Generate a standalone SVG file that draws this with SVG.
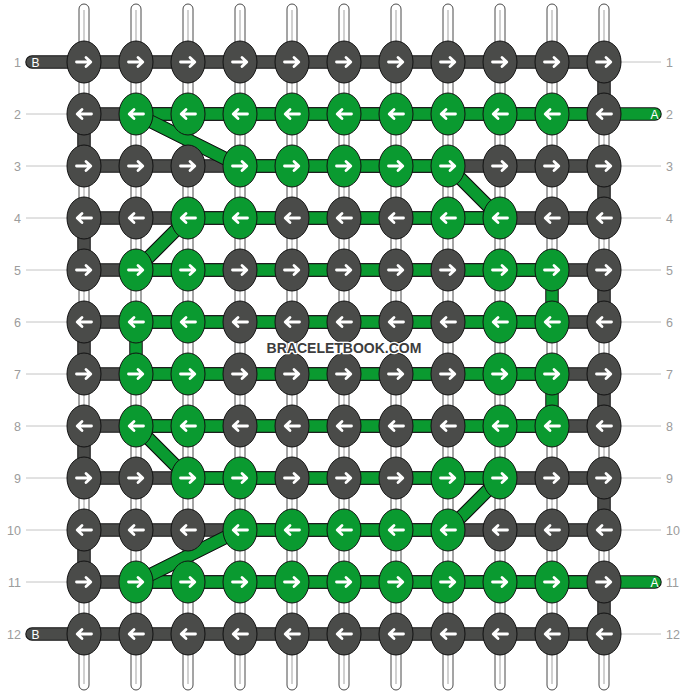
<svg xmlns="http://www.w3.org/2000/svg" xmlns:xlink="http://www.w3.org/1999/xlink" width="688" height="696" viewBox="0 0 688 696">
<style>
.d{fill:#4a4b49}
.g{fill:#0a9a30}
.st rect{fill:#fff;stroke:#4a4a4a;stroke-width:1}
.st line{stroke:#c6c6c6;stroke-width:1.6}
.ol{fill:none;stroke:#111;stroke-width:13.5;stroke-linejoin:round;stroke-linecap:round}
.fd{fill:none;stroke:#4a4b49;stroke-width:11.5;stroke-linejoin:round;stroke-linecap:round}
.fg{fill:none;stroke:#0a9a30;stroke-width:11.5;stroke-linejoin:round;stroke-linecap:round}
.olb{stroke:#111;stroke-width:13.5}
.fgb{stroke:#0a9a30;stroke-width:11.5}
.lab{font-family:"Liberation Sans",Arial,sans-serif;font-size:12.5px;fill:#9c9c9c}
.ll{stroke:#c4c4c4;stroke-width:1}
.tag{font-family:"Liberation Sans",Arial,sans-serif;font-size:12px;fill:#fff}
.wm{font-family:"Liberation Sans",Arial,sans-serif;font-size:14px;font-weight:bold;fill:#3d3d3d;stroke:#fff;stroke-width:2.5;paint-order:stroke;stroke-linejoin:round}
</style>
<defs>
<g id="kr"><ellipse rx="17" ry="21" stroke="#111" stroke-width="1"/><path d="M-7.5 0H6.5M2 -4.5L6.8 0L2 4.5" fill="none" stroke="#fff" stroke-width="2.8" stroke-linecap="round" stroke-linejoin="round"/></g>
<g id="kl"><ellipse rx="17" ry="21" stroke="#111" stroke-width="1"/><path d="M7.5 0H-6.5M-2 -4.5L-6.8 0L-2 4.5" fill="none" stroke="#fff" stroke-width="2.8" stroke-linecap="round" stroke-linejoin="round"/></g>
</defs>
<rect width="688" height="696" fill="#fff"/>
<g id="strands" class="st">
<g id="s1"><rect x="79" y="4" width="10" height="686" rx="5"/><line x1="84" y1="10" x2="84" y2="684"/></g>
<g id="s2"><rect x="131" y="4" width="10" height="686" rx="5"/><line x1="136" y1="10" x2="136" y2="684"/></g>
<g id="s3"><rect x="183" y="4" width="10" height="686" rx="5"/><line x1="188" y1="10" x2="188" y2="684"/></g>
<g id="s4"><rect x="235" y="4" width="10" height="686" rx="5"/><line x1="240" y1="10" x2="240" y2="684"/></g>
<g id="s5"><rect x="287" y="4" width="10" height="686" rx="5"/><line x1="292" y1="10" x2="292" y2="684"/></g>
<g id="s6"><rect x="339" y="4" width="10" height="686" rx="5"/><line x1="344" y1="10" x2="344" y2="684"/></g>
<g id="s7"><rect x="391" y="4" width="10" height="686" rx="5"/><line x1="396" y1="10" x2="396" y2="684"/></g>
<g id="s8"><rect x="443" y="4" width="10" height="686" rx="5"/><line x1="448" y1="10" x2="448" y2="684"/></g>
<g id="s9"><rect x="495" y="4" width="10" height="686" rx="5"/><line x1="500" y1="10" x2="500" y2="684"/></g>
<g id="s10"><rect x="547" y="4" width="10" height="686" rx="5"/><line x1="552" y1="10" x2="552" y2="684"/></g>
<g id="s11"><rect x="599" y="4" width="10" height="686" rx="5"/><line x1="604" y1="10" x2="604" y2="684"/></g>
</g>
<g id="labels">
<g class="ll">
<line x1="26" y1="114" x2="67" y2="114"/><line x1="26" y1="166" x2="67" y2="166"/><line x1="26" y1="218" x2="67" y2="218"/><line x1="26" y1="270" x2="67" y2="270"/><line x1="26" y1="322" x2="67" y2="322"/><line x1="26" y1="374" x2="67" y2="374"/><line x1="26" y1="426" x2="67" y2="426"/><line x1="26" y1="478" x2="67" y2="478"/><line x1="26" y1="530" x2="67" y2="530"/><line x1="26" y1="582" x2="67" y2="582"/>
<line x1="621" y1="62" x2="661" y2="62"/><line x1="621" y1="166" x2="661" y2="166"/><line x1="621" y1="218" x2="661" y2="218"/><line x1="621" y1="270" x2="661" y2="270"/><line x1="621" y1="322" x2="661" y2="322"/><line x1="621" y1="374" x2="661" y2="374"/><line x1="621" y1="426" x2="661" y2="426"/><line x1="621" y1="478" x2="661" y2="478"/><line x1="621" y1="530" x2="661" y2="530"/><line x1="621" y1="634" x2="661" y2="634"/>
</g>
<g class="lab" text-anchor="end">
<text x="21" y="66.5">1</text><text x="21" y="118.5">2</text><text x="21" y="170.5">3</text><text x="21" y="222.5">4</text><text x="21" y="274.5">5</text><text x="21" y="326.5">6</text><text x="21" y="378.5">7</text><text x="21" y="430.5">8</text><text x="21" y="482.5">9</text><text x="21" y="534.5">10</text><text x="21" y="586.5">11</text><text x="21" y="638.5">12</text>
</g>
<g class="lab">
<text x="666" y="66.5">1</text><text x="666" y="118.5">2</text><text x="666" y="170.5">3</text><text x="666" y="222.5">4</text><text x="666" y="274.5">5</text><text x="666" y="326.5">6</text><text x="666" y="378.5">7</text><text x="666" y="430.5">8</text><text x="666" y="482.5">9</text><text x="666" y="534.5">10</text><text x="666" y="586.5">11</text><text x="666" y="638.5">12</text>
</g>
</g>
<g id="connectors">
<polyline class="ol" points="32,62 604,62 604,114 84,114 84,166 604,166 604,218 84,218 84,270 604,270 604,322 84,322 84,374 604,374 604,426 84,426 84,478 604,478 604,530 84,530 84,582 604,582 604,634 32,634"/>
<polyline class="fd" points="32,62 604,62 604,114 84,114 84,166 604,166 604,218 84,218 84,270 604,270 604,322 84,322 84,374 604,374 604,426 84,426 84,478 604,478 604,530 84,530 84,582 604,582 604,634 32,634"/>
<polyline class="ol" points="655,114 136,114 240,166 448,166 500,218 188,218 136,270 552,270 552,322 136,322 136,374 552,374 552,426 136,426 188,478 500,478 448,530 240,530 136,582 655,582"/>
<polyline class="fg" points="655,114 136,114 240,166 448,166 500,218 188,218 136,270 552,270 552,322 136,322 136,374 552,374 552,426 136,426 188,478 500,478 448,530 240,530 136,582 655,582"/>
<g class="olb">
<line x1="136" y1="114" x2="240" y2="166"/><line x1="448" y1="166" x2="500" y2="218"/><line x1="188" y1="218" x2="136" y2="270"/><line x1="136" y1="426" x2="188" y2="478"/><line x1="500" y1="478" x2="448" y2="530"/><line x1="240" y1="530" x2="136" y2="582"/>
</g>
<g class="fgb">
<line x1="136" y1="114" x2="240" y2="166"/><line x1="448" y1="166" x2="500" y2="218"/><line x1="188" y1="218" x2="136" y2="270"/><line x1="136" y1="426" x2="188" y2="478"/><line x1="500" y1="478" x2="448" y2="530"/><line x1="240" y1="530" x2="136" y2="582"/>
</g>
<text class="tag" x="31.5" y="66.5">B</text>
<text class="tag" x="31.5" y="638.5">B</text>
<text class="tag" x="658.5" y="118.5" text-anchor="end">A</text>
<text class="tag" x="658.5" y="586.5" text-anchor="end">A</text>
</g>
<g id="knots">
<g id="k1-1" class="d"><use href="#kr" x="84" y="62"/></g>
<g id="k1-2" class="d"><use href="#kr" x="136" y="62"/></g>
<g id="k1-3" class="d"><use href="#kr" x="188" y="62"/></g>
<g id="k1-4" class="d"><use href="#kr" x="240" y="62"/></g>
<g id="k1-5" class="d"><use href="#kr" x="292" y="62"/></g>
<g id="k1-6" class="d"><use href="#kr" x="344" y="62"/></g>
<g id="k1-7" class="d"><use href="#kr" x="396" y="62"/></g>
<g id="k1-8" class="d"><use href="#kr" x="448" y="62"/></g>
<g id="k1-9" class="d"><use href="#kr" x="500" y="62"/></g>
<g id="k1-10" class="d"><use href="#kr" x="552" y="62"/></g>
<g id="k1-11" class="d"><use href="#kr" x="604" y="62"/></g>
<g id="k2-1" class="d"><use href="#kl" x="84" y="114"/></g>
<g id="k2-2" class="g"><use href="#kl" x="136" y="114"/></g>
<g id="k2-3" class="g"><use href="#kl" x="188" y="114"/></g>
<g id="k2-4" class="g"><use href="#kl" x="240" y="114"/></g>
<g id="k2-5" class="g"><use href="#kl" x="292" y="114"/></g>
<g id="k2-6" class="g"><use href="#kl" x="344" y="114"/></g>
<g id="k2-7" class="g"><use href="#kl" x="396" y="114"/></g>
<g id="k2-8" class="g"><use href="#kl" x="448" y="114"/></g>
<g id="k2-9" class="g"><use href="#kl" x="500" y="114"/></g>
<g id="k2-10" class="g"><use href="#kl" x="552" y="114"/></g>
<g id="k2-11" class="d"><use href="#kl" x="604" y="114"/></g>
<g id="k3-1" class="d"><use href="#kr" x="84" y="166"/></g>
<g id="k3-2" class="d"><use href="#kr" x="136" y="166"/></g>
<g id="k3-3" class="d"><use href="#kr" x="188" y="166"/></g>
<g id="k3-4" class="g"><use href="#kr" x="240" y="166"/></g>
<g id="k3-5" class="g"><use href="#kr" x="292" y="166"/></g>
<g id="k3-6" class="g"><use href="#kr" x="344" y="166"/></g>
<g id="k3-7" class="g"><use href="#kr" x="396" y="166"/></g>
<g id="k3-8" class="g"><use href="#kr" x="448" y="166"/></g>
<g id="k3-9" class="d"><use href="#kr" x="500" y="166"/></g>
<g id="k3-10" class="d"><use href="#kr" x="552" y="166"/></g>
<g id="k3-11" class="d"><use href="#kr" x="604" y="166"/></g>
<g id="k4-1" class="d"><use href="#kl" x="84" y="218"/></g>
<g id="k4-2" class="d"><use href="#kl" x="136" y="218"/></g>
<g id="k4-3" class="g"><use href="#kl" x="188" y="218"/></g>
<g id="k4-4" class="g"><use href="#kl" x="240" y="218"/></g>
<g id="k4-5" class="d"><use href="#kl" x="292" y="218"/></g>
<g id="k4-6" class="d"><use href="#kl" x="344" y="218"/></g>
<g id="k4-7" class="d"><use href="#kl" x="396" y="218"/></g>
<g id="k4-8" class="g"><use href="#kl" x="448" y="218"/></g>
<g id="k4-9" class="g"><use href="#kl" x="500" y="218"/></g>
<g id="k4-10" class="d"><use href="#kl" x="552" y="218"/></g>
<g id="k4-11" class="d"><use href="#kl" x="604" y="218"/></g>
<g id="k5-1" class="d"><use href="#kr" x="84" y="270"/></g>
<g id="k5-2" class="g"><use href="#kr" x="136" y="270"/></g>
<g id="k5-3" class="g"><use href="#kr" x="188" y="270"/></g>
<g id="k5-4" class="d"><use href="#kr" x="240" y="270"/></g>
<g id="k5-5" class="d"><use href="#kr" x="292" y="270"/></g>
<g id="k5-6" class="d"><use href="#kr" x="344" y="270"/></g>
<g id="k5-7" class="d"><use href="#kr" x="396" y="270"/></g>
<g id="k5-8" class="d"><use href="#kr" x="448" y="270"/></g>
<g id="k5-9" class="g"><use href="#kr" x="500" y="270"/></g>
<g id="k5-10" class="g"><use href="#kr" x="552" y="270"/></g>
<g id="k5-11" class="d"><use href="#kr" x="604" y="270"/></g>
<g id="k6-1" class="d"><use href="#kl" x="84" y="322"/></g>
<g id="k6-2" class="g"><use href="#kl" x="136" y="322"/></g>
<g id="k6-3" class="g"><use href="#kl" x="188" y="322"/></g>
<g id="k6-4" class="d"><use href="#kl" x="240" y="322"/></g>
<g id="k6-5" class="d"><use href="#kl" x="292" y="322"/></g>
<g id="k6-6" class="d"><use href="#kl" x="344" y="322"/></g>
<g id="k6-7" class="d"><use href="#kl" x="396" y="322"/></g>
<g id="k6-8" class="d"><use href="#kl" x="448" y="322"/></g>
<g id="k6-9" class="g"><use href="#kl" x="500" y="322"/></g>
<g id="k6-10" class="g"><use href="#kl" x="552" y="322"/></g>
<g id="k6-11" class="d"><use href="#kl" x="604" y="322"/></g>
<g id="k7-1" class="d"><use href="#kr" x="84" y="374"/></g>
<g id="k7-2" class="g"><use href="#kr" x="136" y="374"/></g>
<g id="k7-3" class="g"><use href="#kr" x="188" y="374"/></g>
<g id="k7-4" class="d"><use href="#kr" x="240" y="374"/></g>
<g id="k7-5" class="d"><use href="#kr" x="292" y="374"/></g>
<g id="k7-6" class="d"><use href="#kr" x="344" y="374"/></g>
<g id="k7-7" class="d"><use href="#kr" x="396" y="374"/></g>
<g id="k7-8" class="d"><use href="#kr" x="448" y="374"/></g>
<g id="k7-9" class="g"><use href="#kr" x="500" y="374"/></g>
<g id="k7-10" class="g"><use href="#kr" x="552" y="374"/></g>
<g id="k7-11" class="d"><use href="#kr" x="604" y="374"/></g>
<g id="k8-1" class="d"><use href="#kl" x="84" y="426"/></g>
<g id="k8-2" class="g"><use href="#kl" x="136" y="426"/></g>
<g id="k8-3" class="g"><use href="#kl" x="188" y="426"/></g>
<g id="k8-4" class="d"><use href="#kl" x="240" y="426"/></g>
<g id="k8-5" class="d"><use href="#kl" x="292" y="426"/></g>
<g id="k8-6" class="d"><use href="#kl" x="344" y="426"/></g>
<g id="k8-7" class="d"><use href="#kl" x="396" y="426"/></g>
<g id="k8-8" class="d"><use href="#kl" x="448" y="426"/></g>
<g id="k8-9" class="g"><use href="#kl" x="500" y="426"/></g>
<g id="k8-10" class="g"><use href="#kl" x="552" y="426"/></g>
<g id="k8-11" class="d"><use href="#kl" x="604" y="426"/></g>
<g id="k9-1" class="d"><use href="#kr" x="84" y="478"/></g>
<g id="k9-2" class="d"><use href="#kr" x="136" y="478"/></g>
<g id="k9-3" class="g"><use href="#kr" x="188" y="478"/></g>
<g id="k9-4" class="g"><use href="#kr" x="240" y="478"/></g>
<g id="k9-5" class="d"><use href="#kr" x="292" y="478"/></g>
<g id="k9-6" class="d"><use href="#kr" x="344" y="478"/></g>
<g id="k9-7" class="d"><use href="#kr" x="396" y="478"/></g>
<g id="k9-8" class="g"><use href="#kr" x="448" y="478"/></g>
<g id="k9-9" class="g"><use href="#kr" x="500" y="478"/></g>
<g id="k9-10" class="d"><use href="#kr" x="552" y="478"/></g>
<g id="k9-11" class="d"><use href="#kr" x="604" y="478"/></g>
<g id="k10-1" class="d"><use href="#kl" x="84" y="530"/></g>
<g id="k10-2" class="d"><use href="#kl" x="136" y="530"/></g>
<g id="k10-3" class="d"><use href="#kl" x="188" y="530"/></g>
<g id="k10-4" class="g"><use href="#kl" x="240" y="530"/></g>
<g id="k10-5" class="g"><use href="#kl" x="292" y="530"/></g>
<g id="k10-6" class="g"><use href="#kl" x="344" y="530"/></g>
<g id="k10-7" class="g"><use href="#kl" x="396" y="530"/></g>
<g id="k10-8" class="g"><use href="#kl" x="448" y="530"/></g>
<g id="k10-9" class="d"><use href="#kl" x="500" y="530"/></g>
<g id="k10-10" class="d"><use href="#kl" x="552" y="530"/></g>
<g id="k10-11" class="d"><use href="#kl" x="604" y="530"/></g>
<g id="k11-1" class="d"><use href="#kr" x="84" y="582"/></g>
<g id="k11-2" class="g"><use href="#kr" x="136" y="582"/></g>
<g id="k11-3" class="g"><use href="#kr" x="188" y="582"/></g>
<g id="k11-4" class="g"><use href="#kr" x="240" y="582"/></g>
<g id="k11-5" class="g"><use href="#kr" x="292" y="582"/></g>
<g id="k11-6" class="g"><use href="#kr" x="344" y="582"/></g>
<g id="k11-7" class="g"><use href="#kr" x="396" y="582"/></g>
<g id="k11-8" class="g"><use href="#kr" x="448" y="582"/></g>
<g id="k11-9" class="g"><use href="#kr" x="500" y="582"/></g>
<g id="k11-10" class="g"><use href="#kr" x="552" y="582"/></g>
<g id="k11-11" class="d"><use href="#kr" x="604" y="582"/></g>
<g id="k12-1" class="d"><use href="#kl" x="84" y="634"/></g>
<g id="k12-2" class="d"><use href="#kl" x="136" y="634"/></g>
<g id="k12-3" class="d"><use href="#kl" x="188" y="634"/></g>
<g id="k12-4" class="d"><use href="#kl" x="240" y="634"/></g>
<g id="k12-5" class="d"><use href="#kl" x="292" y="634"/></g>
<g id="k12-6" class="d"><use href="#kl" x="344" y="634"/></g>
<g id="k12-7" class="d"><use href="#kl" x="396" y="634"/></g>
<g id="k12-8" class="d"><use href="#kl" x="448" y="634"/></g>
<g id="k12-9" class="d"><use href="#kl" x="500" y="634"/></g>
<g id="k12-10" class="d"><use href="#kl" x="552" y="634"/></g>
<g id="k12-11" class="d"><use href="#kl" x="604" y="634"/></g>
</g>
<text class="wm" x="344" y="353" text-anchor="middle">BRACELETBOOK.COM</text>
</svg>
